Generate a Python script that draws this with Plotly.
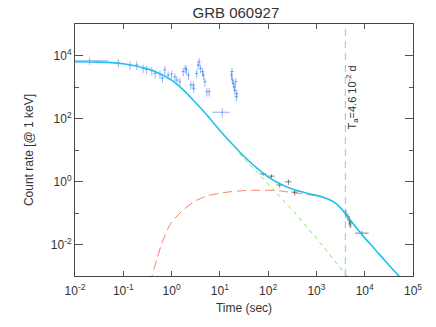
import plotly.graph_objects as go

# ---------------- data ----------------
# BAT (early, blue) points
bat_time = [0.020, 0.079, 0.138, 0.19, 0.257, 0.30, 0.39, 0.457, 0.575, 0.645, 0.724, 0.85,
            1.0, 1.17, 1.29, 1.48, 1.74, 1.91, 2.04, 2.24, 2.51, 2.82, 2.88, 3.31, 3.55, 3.72,
            3.98, 4.37, 4.57, 4.9, 5.37, 6.0, 11.2, 17.4, 17.8, 18.2, 19.1, 20.0, 20.4, 21.4,
            21.9, 22.4]
bat_rate = [6800, 5900, 5000, 5000, 3900, 3600, 3300, 2700, 2600, 1900, 3500, 2400,
            2600, 2100, 1660, 1480, 3100, 3900, 3500, 2400, 1150, 1150, 910, 2700, 5000, 6300,
            3900, 3100, 2400, 1480, 710, 710, 158, 2400, 3100, 1660, 1320, 1000, 800, 1480,
            500, 630]
bat_terr_minus = [0.012] + [None] * 31 + [4.4] + [None] * 9
bat_terr_plus = [0.029] + [None] * 31 + [5.0] + [None] * 9
bat_rerr = [0.25, 0.3, 0.3, 0.3, 0.3, 0.3, 0.3, 0.3, 0.3, 0.3, 0.3, 0.3,
            0.3, 0.3, 0.3, 0.3, 0.3, 0.3, 0.3, 0.3, 0.3, 0.3, 0.3, 0.3, 0.3, 0.3,
            0.3, 0.3, 0.3, 0.3, 0.3, 0.3, 0.35, 0.3, 0.3, 0.3, 0.3, 0.3, 0.3, 0.3,
            0.3, 0.3]

# XRT (late, grey) points
xrt_time = [79, 117, 174, 263, 355, 4070, 4470, 4790, 4900, 5130, 8700]
xrt_rate = [1.74, 1.48, 0.78, 0.98, 0.46, 0.098, 0.076, 0.062, 0.052, 0.045, 0.023]
xrt_terr_minus = [12, 17, 25, 38, 50, 150, 150, 150, 150, 150, 2400]
xrt_terr_plus = [13, 19, 28, 40, 55, 150, 150, 150, 150, 150, 3300]
xrt_rerr = [0.2, 0.2, 0.15, 0.2, 0.1, 0.03, 0.02, 0.02, 0.015, 0.012, 0.004]

# total model (cyan)
model_time = [0.01, 0.0316, 0.1, 0.316, 0.562, 1, 1.78, 3.16, 5.62, 10, 17.8, 31.6, 56.2,
              100, 178, 316, 562, 1000, 1330, 1780, 2370, 3160, 4220, 5620, 7500, 10000,
              13300, 17800, 31600, 63100]
model_rate = [6310, 6170, 5500, 3800, 2690, 1660, 794, 316, 120, 41.7, 15.8, 6.31, 2.82,
              1.41, 0.832, 0.575, 0.447, 0.363, 0.324, 0.275, 0.219, 0.145, 0.0851, 0.0479,
              0.0275, 0.0162, 0.0100, 0.00603, 0.00224, 0.00071]

# afterglow component (red dashed)
afterglow_time = [0.355, 0.389, 0.5, 0.631, 0.794, 1, 1.78, 3.16, 5.62, 10, 17.8, 31.6, 56.2,
                  100, 178, 316, 562, 1000, 1330, 1780, 2370, 3160, 4220, 5620, 7500, 10000,
                  13300, 17800, 31600, 63100]
afterglow_rate = [0.0006, 0.00095, 0.0036, 0.0110, 0.0263, 0.0513, 0.129, 0.245, 0.355,
                  0.427, 0.479, 0.513, 0.525, 0.525, 0.501, 0.447, 0.398, 0.347, 0.312,
                  0.267, 0.214, 0.142, 0.0835, 0.0470, 0.0270, 0.0159, 0.0098, 0.00590,
                  0.00219, 0.00069]

# prompt component tail (green dashed)
prompt_time = [25.1, 100, 316, 1000, 4270, 5000]
prompt_rate = [7.94, 0.85, 0.126, 0.0158, 0.001, 0.00074]

# break time
ta_time = 3974.0
ta_label = "T<sub>a</sub>=4.6 10<sup>-2</sup> d"
frame_rates = [1e-3, 1e5]

x_tickvals = [1e-2, 1e-1, 1, 1e1, 1e2, 1e3, 1e4, 1e5]
x_ticktext = ["10<sup>-2</sup>", "10<sup>-1</sup>", "10<sup>0</sup>", "10<sup>1</sup>",
              "10<sup>2</sup>", "10<sup>3</sup>", "10<sup>4</sup>", "10<sup>5</sup>"]
y_tickvals = [1e-2, 1, 1e2, 1e4]
y_ticktext = ["10<sup>-2</sup>", "10<sup>0</sup>", "10<sup>2</sup>", "10<sup>4</sup>"]
y_minorvals = [1e-1, 1e1, 1e3]

# ---------------- figure ----------------
FONT = "Liberation Sans, Arial, sans-serif"
fig = go.Figure()

fig.add_trace(go.Scatter(
    x=afterglow_time, y=afterglow_rate, mode="lines", line_shape="spline",
    line=dict(color="#ff7a66", width=1, dash="9px,5px", smoothing=0.6), hoverinfo="skip"))
fig.add_trace(go.Scatter(
    x=prompt_time, y=prompt_rate, mode="lines",
    line=dict(color="#7ee85a", width=1, dash="4px,4px"), hoverinfo="skip"))
fig.add_trace(go.Scatter(
    x=[ta_time, ta_time], y=frame_rates, mode="lines",
    line=dict(color="#8fd6f0", width=1.2, dash="7px,5px"), hoverinfo="skip"))

fig.add_trace(go.Scatter(
    x=bat_time, y=bat_rate, mode="markers",
    marker=dict(size=1, color="rgba(60,120,235,0.7)"),
    error_x=dict(type="data", symmetric=False,
                 array=[p if p is not None else t * 0.08 for p, t in zip(bat_terr_plus, bat_time)],
                 arrayminus=[m if m is not None else t * 0.07 for m, t in zip(bat_terr_minus, bat_time)],
                 color="rgba(70,130,240,0.6)", thickness=1, width=0),
    error_y=dict(type="data", array=[r * e for r, e in zip(bat_rate, bat_rerr)],
                 color="rgba(70,130,240,0.6)", thickness=1, width=0)))

fig.add_trace(go.Scatter(
    x=xrt_time, y=xrt_rate, mode="markers",
    marker=dict(size=1, color="rgba(90,90,90,0.8)"),
    error_x=dict(type="data", symmetric=False, array=xrt_terr_plus, arrayminus=xrt_terr_minus,
                 color="rgba(90,90,90,0.75)", thickness=1, width=0),
    error_y=dict(type="data", array=xrt_rerr, color="rgba(90,90,90,0.75)", thickness=1, width=0)))

fig.add_trace(go.Scatter(
    x=model_time, y=model_rate, mode="lines", line_shape="spline",
    line=dict(color="#1ec3ef", width=1.6, smoothing=0.6), hoverinfo="skip"))

fig.add_annotation(
    x=3.5993, y=2.68, xref="x", yref="y", xshift=7, text=ta_label, textangle=-90,
    showarrow=False, font=dict(family=FONT, size=11, color="#333"))

fig.update_layout(
    width=436, height=327,
    margin=dict(l=75, r=23, t=24, b=51),
    paper_bgcolor="white", plot_bgcolor="white",
    showlegend=False,
    font=dict(family=FONT, size=12, color="#333"),
    title=dict(text="GRB 060927", x=0.541, xanchor="center", y=0.962, yanchor="middle",
               font=dict(family=FONT, size=15, color="#333")),
)
fig.update_xaxes(
    type="log", range=[-2, 5], tickvals=x_tickvals, ticktext=x_ticktext,
    ticks="inside", ticklen=5, tickcolor="#555", showgrid=False, zeroline=False,
    showline=True, linecolor="#444", linewidth=1, mirror="ticks",
    ticklabelstandoff=4,
    title=dict(text="Time (sec)", font=dict(size=12), standoff=6),
    tickfont=dict(size=12))
fig.update_yaxes(
    type="log", range=[-3, 5], tickvals=y_tickvals, ticktext=y_ticktext,
    ticks="inside", ticklen=8, tickcolor="#555", showgrid=False, zeroline=False,
    showline=True, linecolor="#444", linewidth=1, mirror="ticks",
    minor=dict(tickvals=y_minorvals, ticks="inside", ticklen=4, tickcolor="#555", showgrid=False),
    title=dict(text="Count rate [@ 1 keV]", font=dict(size=12), standoff=14),
    tickfont=dict(size=12))

fig.write_html("out.html", config={"displayModeBar": False},
               post_script="document.body.style.margin='0';document.body.style.padding='0';")
